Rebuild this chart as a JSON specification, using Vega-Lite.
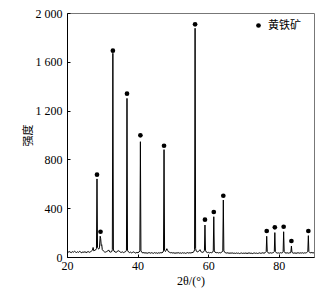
{
  "$schema": "https://vega.github.io/schema/vega-lite/v6.json",
  "width": 247,
  "height": 244,
  "autosize": {"type": "none"},
  "padding": {"left": 67, "top": 13, "right": 17, "bottom": 33},
  "background": "white",
  "datasets": {
    "xrd": [
      {"x":20.0,"y":42},{"x":20.3,"y":38},{"x":20.6,"y":45},{"x":20.9,"y":40},{"x":21.2,"y":36},{"x":21.5,"y":44},{"x":21.8,"y":39},{"x":22.1,"y":47},{"x":22.4,"y":41},{"x":22.7,"y":37},
      {"x":23.0,"y":43},{"x":23.3,"y":38},{"x":23.6,"y":46},{"x":23.9,"y":40},{"x":24.2,"y":35},{"x":24.5,"y":42},{"x":24.8,"y":38},{"x":25.1,"y":44},{"x":25.4,"y":36},{"x":25.7,"y":40},
      {"x":26.0,"y":45},{"x":26.3,"y":38},{"x":26.6,"y":42},{"x":26.9,"y":48},{"x":27.2,"y":55},{"x":27.4,"y":78},{"x":27.6,"y":50},{"x":27.9,"y":56},{"x":28.2,"y":60},{"x":28.35,"y":70},
      {"x":28.5,"y":640},{"x":28.65,"y":80},{"x":28.8,"y":70},{"x":29.0,"y":65},{"x":29.2,"y":75},{"x":29.4,"y":170},{"x":29.55,"y":150},{"x":29.7,"y":95},{"x":29.85,"y":100},{"x":30.0,"y":60},
      {"x":30.3,"y":50},{"x":30.6,"y":42},{"x":30.9,"y":40},{"x":31.2,"y":44},{"x":31.5,"y":48},{"x":31.8,"y":58},{"x":32.1,"y":42},{"x":32.4,"y":40},{"x":32.7,"y":45},{"x":32.85,"y":60},
      {"x":33.0,"y":1670},{"x":33.15,"y":65},{"x":33.3,"y":48},{"x":33.6,"y":42},{"x":33.9,"y":38},{"x":34.2,"y":44},{"x":34.5,"y":52},{"x":34.8,"y":48},{"x":35.1,"y":40},{"x":35.4,"y":38},
      {"x":35.7,"y":42},{"x":36.0,"y":36},{"x":36.3,"y":40},{"x":36.6,"y":44},{"x":36.85,"y":55},{"x":37.0,"y":1300},{"x":37.15,"y":55},{"x":37.4,"y":42},{"x":37.7,"y":36},{"x":38.0,"y":40},
      {"x":38.3,"y":34},{"x":38.6,"y":38},{"x":38.9,"y":42},{"x":39.2,"y":36},{"x":39.5,"y":32},{"x":39.8,"y":38},{"x":40.1,"y":35},{"x":40.4,"y":40},{"x":40.65,"y":50},{"x":40.8,"y":945},
      {"x":40.95,"y":50},{"x":41.2,"y":38},{"x":41.5,"y":34},{"x":41.8,"y":36},{"x":42.1,"y":32},{"x":42.4,"y":35},{"x":42.7,"y":30},{"x":43.0,"y":34},{"x":43.3,"y":36},{"x":43.6,"y":31},
      {"x":43.9,"y":35},{"x":44.2,"y":33},{"x":44.5,"y":30},{"x":44.8,"y":36},{"x":45.1,"y":32},{"x":45.4,"y":34},{"x":45.7,"y":30},{"x":46.0,"y":35},{"x":46.3,"y":32},{"x":46.6,"y":36},
      {"x":46.9,"y":34},{"x":47.2,"y":40},{"x":47.35,"y":50},{"x":47.5,"y":880},{"x":47.65,"y":55},{"x":47.9,"y":45},{"x":48.1,"y":55},{"x":48.3,"y":68},{"x":48.5,"y":55},{"x":48.8,"y":42},
      {"x":49.1,"y":38},{"x":49.4,"y":34},{"x":49.7,"y":36},{"x":50.0,"y":32},{"x":50.3,"y":35},{"x":50.6,"y":30},{"x":50.9,"y":34},{"x":51.2,"y":32},{"x":51.5,"y":36},{"x":51.8,"y":31},
      {"x":52.1,"y":34},{"x":52.4,"y":30},{"x":52.7,"y":35},{"x":53.0,"y":32},{"x":53.3,"y":34},{"x":53.6,"y":30},{"x":53.9,"y":33},{"x":54.2,"y":36},{"x":54.5,"y":32},{"x":54.8,"y":35},
      {"x":55.1,"y":33},{"x":55.4,"y":36},{"x":55.7,"y":38},{"x":56.0,"y":45},{"x":56.15,"y":60},{"x":56.3,"y":1875},{"x":56.45,"y":70},{"x":56.6,"y":50},{"x":56.9,"y":42},{"x":57.2,"y":45},
      {"x":57.5,"y":52},{"x":57.7,"y":60},{"x":57.9,"y":45},{"x":58.2,"y":40},{"x":58.5,"y":38},{"x":58.8,"y":45},{"x":58.95,"y":55},{"x":59.1,"y":262},{"x":59.25,"y":55},{"x":59.5,"y":40},
      {"x":59.8,"y":36},{"x":60.1,"y":38},{"x":60.4,"y":34},{"x":60.7,"y":37},{"x":61.0,"y":35},{"x":61.3,"y":40},{"x":61.45,"y":50},{"x":61.6,"y":330},{"x":61.75,"y":50},{"x":62.0,"y":38},
      {"x":62.3,"y":35},{"x":62.6,"y":37},{"x":62.9,"y":33},{"x":63.2,"y":36},{"x":63.5,"y":34},{"x":63.8,"y":38},{"x":64.15,"y":50},{"x":64.3,"y":467},{"x":64.45,"y":50},{"x":64.7,"y":38},
      {"x":65.0,"y":34},{"x":65.3,"y":32},{"x":65.6,"y":35},{"x":65.9,"y":30},{"x":66.2,"y":33},{"x":66.5,"y":31},{"x":66.8,"y":34},{"x":67.1,"y":30},{"x":67.4,"y":32},{"x":67.7,"y":29},
      {"x":68.0,"y":33},{"x":68.3,"y":30},{"x":68.6,"y":32},{"x":68.9,"y":28},{"x":69.2,"y":31},{"x":69.5,"y":33},{"x":69.8,"y":29},{"x":70.1,"y":32},{"x":70.4,"y":30},{"x":70.7,"y":33},
      {"x":71.0,"y":29},{"x":71.3,"y":31},{"x":71.6,"y":34},{"x":71.9,"y":30},{"x":72.2,"y":32},{"x":72.5,"y":28},{"x":72.8,"y":31},{"x":73.1,"y":33},{"x":73.4,"y":30},{"x":73.7,"y":32},
      {"x":74.0,"y":29},{"x":74.3,"y":31},{"x":74.6,"y":34},{"x":74.9,"y":30},{"x":75.2,"y":32},{"x":75.5,"y":35},{"x":75.8,"y":31},{"x":76.1,"y":34},{"x":76.45,"y":45},{"x":76.6,"y":170},
      {"x":76.75,"y":45},{"x":77.0,"y":34},{"x":77.3,"y":31},{"x":77.6,"y":35},{"x":77.9,"y":32},{"x":78.2,"y":34},{"x":78.5,"y":36},{"x":78.75,"y":45},{"x":78.9,"y":200},{"x":79.05,"y":45},
      {"x":79.3,"y":35},{"x":79.6,"y":32},{"x":79.9,"y":34},{"x":80.2,"y":31},{"x":80.5,"y":35},{"x":80.8,"y":33},{"x":81.1,"y":36},{"x":81.25,"y":45},{"x":81.4,"y":207},{"x":81.55,"y":45},
      {"x":81.8,"y":34},{"x":82.1,"y":32},{"x":82.4,"y":35},{"x":82.7,"y":31},{"x":83.0,"y":34},{"x":83.3,"y":33},{"x":83.45,"y":40},{"x":83.6,"y":90},{"x":83.75,"y":40},{"x":84.0,"y":33},
      {"x":84.3,"y":31},{"x":84.6,"y":34},{"x":84.9,"y":30},{"x":85.2,"y":33},{"x":85.5,"y":35},{"x":85.8,"y":31},{"x":86.1,"y":34},{"x":86.4,"y":32},{"x":86.7,"y":35},{"x":87.0,"y":31},
      {"x":87.3,"y":34},{"x":87.6,"y":33},{"x":87.9,"y":36},{"x":88.25,"y":45},{"x":88.4,"y":175},{"x":88.55,"y":45},{"x":88.8,"y":36},{"x":89.1,"y":34},{"x":89.4,"y":37},{"x":89.7,"y":33},
      {"x":90.0,"y":35}
    ],
    "peaks": [
      {"x":28.5,"y":675,"phase":"黄铁矿"},{"x":29.5,"y":207,"phase":"黄铁矿"},{"x":33.0,"y":1691,"phase":"黄铁矿"},
      {"x":37.0,"y":1339,"phase":"黄铁矿"},{"x":40.8,"y":997,"phase":"黄铁矿"},{"x":47.5,"y":912,"phase":"黄铁矿"},
      {"x":56.3,"y":1907,"phase":"黄铁矿"},{"x":59.1,"y":306,"phase":"黄铁矿"},{"x":61.6,"y":369,"phase":"黄铁矿"},
      {"x":64.3,"y":502,"phase":"黄铁矿"},{"x":76.6,"y":213,"phase":"黄铁矿"},{"x":78.9,"y":243,"phase":"黄铁矿"},
      {"x":81.4,"y":248,"phase":"黄铁矿"},{"x":83.6,"y":131,"phase":"黄铁矿"},{"x":88.4,"y":213,"phase":"黄铁矿"}
    ]
  },
  "layer": [
    {
      "data": {"name": "xrd"},
      "mark": {"type": "line", "color": "black", "strokeWidth": 1, "clip": true},
      "encoding": {
        "x": {"field": "x", "type": "quantitative",
              "scale": {"domain": [20, 90], "nice": false},
              "axis": {"values": [20,30,40,50,60,70,80,90], "title": "2θ/(°)", "titlePadding": 4}},
        "y": {"field": "y", "type": "quantitative",
              "scale": {"domain": [0, 2000], "nice": false},
              "axis": {"values": [0,400,800,1200,1600,2000], "title": "强度",
                       "labelExpr": "replace(format(datum.value, ','), ',', ' ')",
                       "titlePadding": 2, "titleFont": "Noto Sans CJK SC", "titleFontSize": 11}}
      }
    },
    {
      "data": {"name": "peaks"},
      "mark": {"type": "point", "filled": true, "shape": "circle", "size": 22, "opacity": 1},
      "encoding": {
        "x": {"field": "x", "type": "quantitative"},
        "y": {"field": "y", "type": "quantitative"},
        "color": {"field": "phase", "type": "nominal",
                  "scale": {"range": ["black"]},
                  "legend": {"title": null, "orient": "none", "legendX": 186, "legendY": 7,
                             "symbolSize": 22, "symbolType": "circle", "labelFont": "Noto Sans CJK SC",
                             "labelFontSize": 11, "labelOffset": 4, "padding": 0, "symbolOffset": 0}}
      }
    }
  ],
  "config": {
    "view": {"stroke": "#777777", "strokeWidth": 1},
    "axis": {
      "grid": false,
      "domainColor": "black",
      "domainWidth": 1,
      "tickColor": "black",
      "tickSize": -3,
      "labelFont": "Liberation Serif",
      "labelFontSize": 12,
      "labelColor": "black",
      "titleFont": "Liberation Serif",
      "titleFontSize": 12,
      "titleFontWeight": "normal",
      "titleColor": "black"
    },
    "axisX": {"labelPadding": 6, "labelFlush": false},
    "axisY": {"labelPadding": 8}
  }
}
